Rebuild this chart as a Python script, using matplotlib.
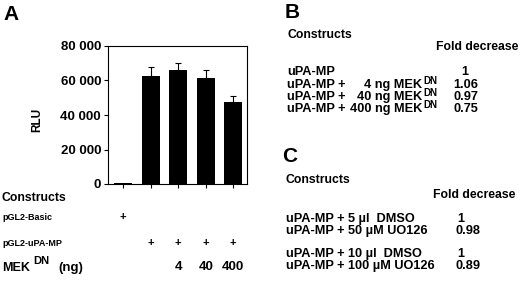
import numpy as np
import matplotlib
matplotlib.use('Agg')
import matplotlib.pyplot as plt
from matplotlib.ticker import FuncFormatter

plt.rcParams['font.family'] = ['Liberation Sans', 'DejaVu Sans']
plt.rcParams['font.weight'] = 'bold'

# panel A data
rlu = [500, 62800, 66200, 61300, 47500]
rlu_err = [0, 5200, 3900, 4800, 3700]
basic_plus = ['+', '', '', '', '']
upa_plus = ['', '+', '+', '+', '+']
mek_ng = ['', '', '4', '40', '400']

# panel B table
b_prefix = ['uPA-MP', 'uPA-MP +', 'uPA-MP +', 'uPA-MP +']
b_dose = ['', '4 ng MEK', '40 ng MEK', '400 ng MEK']
b_fold = ['1', '1.06', '0.97', '0.75']

# panel C table
c_labels = ['uPA-MP + 5 \u00b5l  DMSO', 'uPA-MP + 50 \u00b5M UO126',
            'uPA-MP + 10 \u00b5l  DMSO', 'uPA-MP + 100 \u00b5M UO126']
c_fold = ['1', '0.98', '1', '0.89']

W, H = 520, 293
fig = plt.figure(figsize=(W / 100, H / 100), dpi=100)


def ftext(x, y, s, **kw):
    kw.setdefault('va', 'center')
    kw.setdefault('fontweight', 'bold')
    fig.text(x / W, 1 - y / H, s, **kw)


# ---- panel A bar chart
ax = fig.add_axes([108 / W, 1 - 184 / H, 139 / W, 138 / H])
x = np.arange(len(rlu))
ax.bar(x, rlu, width=0.66, color='black')
ax.errorbar(x[1:], rlu[1:], yerr=[np.zeros(4), rlu_err[1:]], fmt='none',
            ecolor='black', elinewidth=0.8, capsize=2, capthick=0.8)
ax.set_xlim(-0.55, 4.5)
ax.set_ylim(0, 80000)
ax.set_yticks([0, 20000, 40000, 60000, 80000])
ax.yaxis.set_major_formatter(FuncFormatter(
    lambda v, p: '0' if v == 0 else f'{int(v) // 1000} {int(v) % 1000:03d}'))
ax.set_xticks(x)
ax.set_xticklabels([])
ax.tick_params(direction='out', length=3, width=0.8, pad=2)
ax.tick_params(axis='y', labelsize=9.5)
for s in ax.spines.values():
    s.set_linewidth(0.8)

ftext(37, 120, 'RLU', rotation=90, ha='center', fontsize=8.5)
ftext(3, 15, 'A', fontsize=15, ha='left')

ftext(2, 198, 'Constructs', fontsize=8.8, ha='left')
ftext(2, 217, 'pGL2-Basic', fontsize=6.5, ha='left')
ftext(2, 243, 'pGL2-uPA-MP', fontsize=6.5, ha='left')
ftext(2, 268, 'MEK', fontsize=9, ha='left')
ftext(33, 261, 'DN', fontsize=8, ha='left')
ftext(58, 268, '(ng)', fontsize=9.5, ha='left')

for i in range(len(rlu)):
    xf = ax.transData.transform((x[i], 0))[0] / W
    fig.text(xf, 1 - 217 / H, basic_plus[i], ha='center', va='center', fontsize=8, fontweight='bold')
    fig.text(xf, 1 - 243 / H, upa_plus[i], ha='center', va='center', fontsize=8, fontweight='bold')
    fig.text(xf, 1 - 267 / H, mek_ng[i], ha='center', va='center', fontsize=9.5, fontweight='bold')

# ---- panel B
ftext(285, 13, 'B', fontsize=15, ha='left')
ftext(287, 35, 'Constructs', fontsize=8.8, ha='left')
ftext(436, 47, 'Fold decrease', fontsize=8.8, ha='left')
b_rows = [72, 85, 97, 109]
for yy, pre, dose, f in zip(b_rows, b_prefix, b_dose, b_fold):
    ftext(287, yy, pre, fontsize=9.2, ha='left')
    if dose:
        ftext(422, yy, dose, fontsize=9.2, ha='right')
        ftext(423, yy - 4, 'DN', fontsize=7, ha='left')
    ftext(453 if len(f) > 1 else 461, yy, f, fontsize=9.2, ha='left')

# ---- panel C
ftext(282, 157, 'C', fontsize=15, ha='left')
ftext(286, 180, 'Constructs', fontsize=8.8, ha='left')
ftext(433, 195, 'Fold decrease', fontsize=8.8, ha='left')
c_rows = [219, 231, 254, 266]
for yy, lab, f in zip(c_rows, c_labels, c_fold):
    ftext(286, yy, lab, fontsize=9.2, ha='left')
    ftext(455 if len(f) > 1 else 457, yy, f, fontsize=9.2, ha='left')

fig.savefig('out.png', dpi=100)
